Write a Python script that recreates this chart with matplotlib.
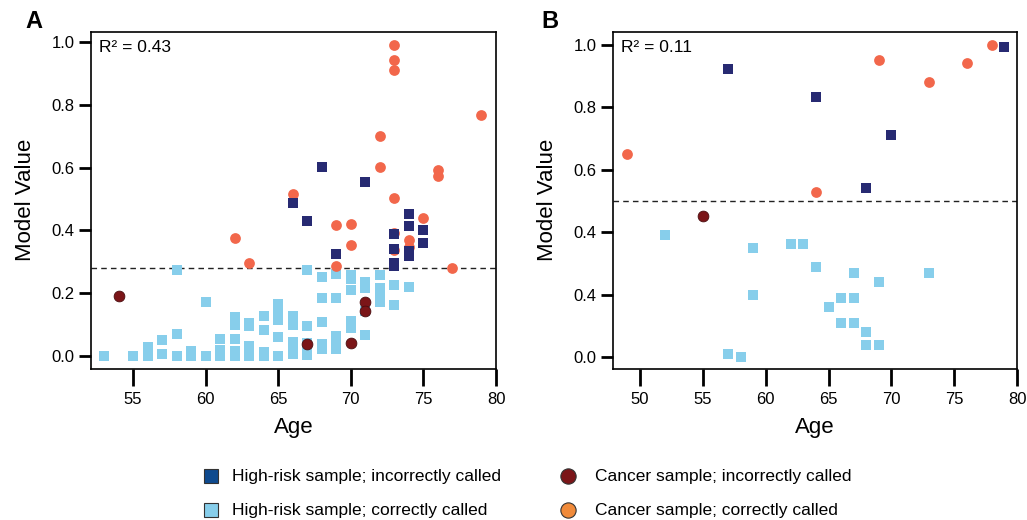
import matplotlib
matplotlib.use("Agg")
import matplotlib.pyplot as plt
from matplotlib.lines import Line2D

plt.rcParams['font.family'] = ['Liberation Sans', 'DejaVu Sans']

# ---------------- Data: Panel A ----------------
a_light_age = [53, 55, 56, 56, 56, 57, 57, 58, 58, 58, 59, 59, 60, 60, 61, 61, 61,
               62, 62, 62, 62, 62, 62, 63, 63, 63, 63, 63, 64, 64, 64, 64,
               65, 65, 65, 65, 65, 66, 66, 66, 66, 66, 67, 67, 67, 67, 67,
               68, 68, 68, 68, 68, 69, 69, 69, 69, 69, 70, 70, 70, 70, 70,
               71, 71, 71, 71, 72, 72, 72, 72, 73, 73, 74]
a_light_val = [0.0, 0.0, 0.0, 0.015, 0.03, 0.005, 0.05, 0.0, 0.069, 0.273, 0.0, 0.017, 0.0, 0.171, 0.0, 0.02, 0.053,
               0.0, 0.017, 0.053, 0.097, 0.11, 0.124, 0.0, 0.016, 0.032, 0.094, 0.105, 0.0, 0.014, 0.082, 0.128,
               0.0, 0.06, 0.114, 0.145, 0.164, 0.005, 0.025, 0.046, 0.098, 0.128, 0.002, 0.021, 0.041, 0.095, 0.273,
               0.023, 0.037, 0.107, 0.184, 0.25, 0.023, 0.044, 0.065, 0.185, 0.26, 0.09, 0.11, 0.209, 0.244, 0.259,
               0.066, 0.143, 0.217, 0.237, 0.172, 0.195, 0.217, 0.259, 0.161, 0.225, 0.221]

a_navy_age = [66, 67, 68, 69, 71, 73, 73, 73, 73, 74, 74, 74, 74, 75, 75]
a_navy_val = [0.486, 0.429, 0.601, 0.325, 0.553, 0.389, 0.34, 0.297, 0.287, 0.452, 0.414, 0.334, 0.318, 0.401, 0.359]

a_orange_age = [62, 63, 66, 69, 69, 70, 70, 72, 72, 73, 73, 73, 73, 73, 73, 74, 74, 75, 76, 76, 77, 79]
a_orange_val = [0.375, 0.297, 0.515, 0.417, 0.288, 0.419, 0.353, 0.70, 0.603, 0.991, 0.944, 0.91, 0.502,
                0.393, 0.338, 0.37, 0.348, 0.44, 0.593, 0.574, 0.279, 0.768]

a_dred_age = [54, 67, 70, 71, 71]
a_dred_val = [0.191, 0.037, 0.042, 0.173, 0.143]

a_threshold = 0.28
a_r2 = "R\u00b2 = 0.43"

# ---------------- Data: Panel B ----------------
b_light_age = [52, 57, 58, 59, 59, 62, 63, 64, 65, 66, 66, 67, 67, 67, 68, 68, 69, 69, 73]
b_light_val = [0.39, 0.01, 0.0, 0.348, 0.198, 0.361, 0.361, 0.29, 0.159, 0.188, 0.108,
               0.268, 0.188, 0.108, 0.079, 0.0375, 0.239, 0.0375, 0.268]

b_navy_age = [57, 64, 68, 70, 79]
b_navy_val = [0.922, 0.832, 0.541, 0.711, 0.993]

b_orange_age = [49, 64, 69, 73, 76, 78]
b_orange_val = [0.651, 0.53, 0.952, 0.881, 0.941, 1.0]

b_dred_age = [55]
b_dred_val = [0.451]

b_threshold = 0.5
b_r2 = "R\u00b2 = 0.11"

# ticks
a_xticks = [55, 60, 65, 70, 75, 80]
b_xticks = [50, 55, 60, 65, 70, 75, 80]
yticks = [0.0, 0.2, 0.4, 0.6, 0.8, 1.0]
a_yticklabels = ['0.0', '0.2', '0.4', '0.6', '0.8', '1.0']
b_yticklabels = ['0.0', '0.4', '0.4', '0.6', '0.8', '1.0']

legend_labels = ["High-risk sample; incorrectly called",
                 "High-risk sample; correctly called",
                 "Cancer sample; incorrectly called",
                 "Cancer sample; correctly called"]

# ---------------- Styles ----------------
C_LIGHT = '#87CEEB'
C_NAVY = '#272A72'
C_ORANGE = '#F2674B'
C_DRED = '#7B1518'
SQ = 48
CI = 60

fig = plt.figure(figsize=(10.27, 5.2), dpi=100)
axA = fig.add_axes([91/1027, 1-368.5/520, (496-91)/1027, (368.5-32)/520])
axB = fig.add_axes([613/1027, 1-368.5/520, (1017-613)/1027, (368.5-32)/520])


def draw(ax, light, navy, orange, dred, thr, r2, xlim, ylim, xticks, ylabels):
    ax.scatter(*light, marker='s', s=SQ, color=C_LIGHT, linewidths=0, zorder=2)
    ax.scatter(*orange, marker='o', s=CI, color=C_ORANGE, linewidths=0, zorder=3)
    ax.scatter(*navy, marker='s', s=SQ, color=C_NAVY, linewidths=0, zorder=4)
    ax.scatter(*dred, marker='o', s=CI, color=C_DRED, edgecolors='#4a0d0f',
               linewidths=0.6, zorder=5)
    ax.axhline(thr, color='#222222', lw=1.0, ls=(0, (4, 3)), zorder=1)
    ax.set_xlim(*xlim)
    ax.set_ylim(*ylim)
    ax.set_xticks(xticks)
    ax.set_yticks(yticks)
    ax.set_yticklabels(ylabels)
    ax.tick_params(axis='both', direction='out', length=9, width=2.0,
                   labelsize=12, pad=3)
    ax.tick_params(axis='x', length=12, pad=5)
    for sp in ax.spines.values():
        sp.set_linewidth(1.2)
    ax.set_xlabel('Age', fontsize=16, labelpad=7)
    ax.set_ylabel('Model Value', fontsize=16, labelpad=11)
    ax.text(0.02, 0.975, r2, transform=ax.transAxes, ha='left', va='top', fontsize=12.5)


draw(axA, (a_light_age, a_light_val), (a_navy_age, a_navy_val),
     (a_orange_age, a_orange_val), (a_dred_age, a_dred_val),
     a_threshold, a_r2, (52.1, 80), (-0.04, 1.032), a_xticks, a_yticklabels)
draw(axB, (b_light_age, b_light_val), (b_navy_age, b_navy_val),
     (b_orange_age, b_orange_val), (b_dred_age, b_dred_val),
     b_threshold, b_r2, (47.85, 80), (-0.037, 1.042), b_xticks, b_yticklabels)

fig.text(25/1027, 1-22/520, 'A', fontsize=17, fontweight='bold', ha='left', va='center')
fig.text(541/1027, 1-22/520, 'B', fontsize=17, fontweight='bold', ha='left', va='center')

# ---------------- Legend ----------------
leg_items = [
    (211, 476, 's', '#0E4A8E', legend_labels[0], 232),
    (211, 510, 's', C_LIGHT, legend_labels[1], 232),
    (568, 476, 'o', C_DRED, legend_labels[2], 595),
    (568, 510, 'o', '#F08A3A', legend_labels[3], 595),
]
for x, y, m, c, lab, tx in leg_items:
    fig.add_artist(Line2D([x/1027], [1-y/520], marker=m, markersize=10 if m == 's' else 11,
                          markerfacecolor=c, markeredgecolor='#333333', markeredgewidth=0.8,
                          linestyle='none', transform=fig.transFigure))
    fig.text(tx/1027, 1-y/520, lab, fontsize=12.5, ha='left', va='center')

fig.savefig('out.png', dpi=100)
